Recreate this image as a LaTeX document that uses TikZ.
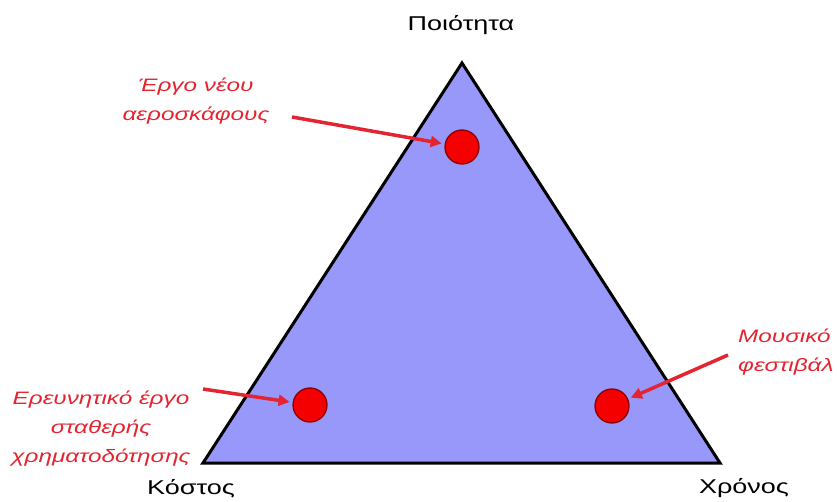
\documentclass[tikz,border=0pt]{standalone}
\usepackage{fontspec}
\setmainfont{Liberation Sans}
\newfontfamily\widesans[FakeStretch=1.35]{Liberation Sans}
\usetikzlibrary{arrows.meta}
\definecolor{tri}{RGB}{152,152,250}
\definecolor{lab}{RGB}{228,36,48}
\definecolor{dot}{RGB}{245,0,0}
\definecolor{dotb}{RGB}{140,0,0}
\begin{document}
\begin{tikzpicture}[x=1pt,y=-1pt,
  vlab/.style={font=\widesans\fontsize{20}{24}\selectfont, text=black, inner sep=0pt},
  rlab/.style={font=\widesans\fontsize{18}{29}\selectfont\itshape, text=lab, align=center, inner sep=0pt},
  pt/.style={circle, fill=dot, draw=dotb, line width=1.3pt, minimum size=34pt, inner sep=0pt},
  arr/.style={draw=lab, line width=3.5pt, shorten >=3pt, -{Triangle[length=11pt,width=11pt]}}]
\useasboundingbox (0,0) rectangle (837,502);
\coordinate (A) at (462,63);
\coordinate (B) at (203,463);
\coordinate (C) at (720,463);
\draw[fill=tri, line width=3pt, line join=miter] (A) -- (B) -- (C) -- cycle;
\node[vlab] (q) at (461,25) {Ποιότητα};
\node[vlab] (k) at (191,489) {Κόστος};
\node[vlab] (x) at (744,488) {Χρόνος};
\node[pt] (p1) at (462,147) {};
\node[pt] (p2) at (310,405) {};
\node[pt] (p3) at (612,406) {};
\node[rlab] (l1) at (196,101) {Έργο νέου\\αεροσκάφους};
\node[rlab] (l2) at (101,429) {Ερευνητικό έργο\\σταθερής\\χρηματοδότησης};
\node[rlab, align=left, anchor=west] (l3) at (738,352) {Μουσικό\\φεστιβάλ};
\coordinate (s1) at (292,117);
\coordinate (s2) at (203,389);
\coordinate (s3) at (728,355);
\draw[arr] (s1) -- (p1);
\draw[arr] (s2) -- (p2);
\draw[arr] (s3) -- (p3);
\end{tikzpicture}
\end{document}
